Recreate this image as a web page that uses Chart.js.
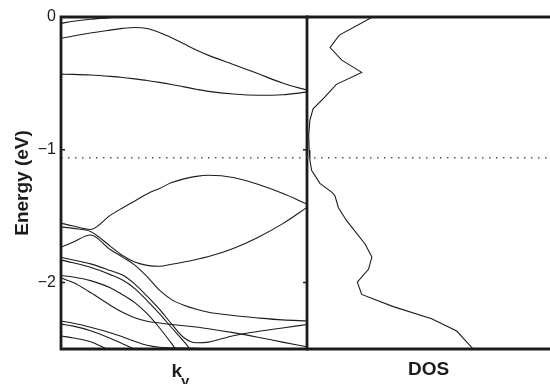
<!doctype html>
<html lang="en">
<head>
  <meta charset="utf-8">
  <title>Band structure and DOS</title>
  <script src="https://cdn.jsdelivr.net/npm/chart.js"></script>
  <style>
    body { margin: 0; background: #fff; }
    #wrap { position: relative; width: 550px; height: 384px; overflow: hidden; }
    canvas { position: absolute; top: 0; }
    #canvas_bands { left: 0; }
    #canvas_dos { left: 300px; }
  </style>
</head>
<body>
  <div id="wrap">
    <canvas id="canvas_bands" width="310" height="384"></canvas>
    <canvas id="canvas_dos" width="250" height="384"></canvas>
  </div>

  <script type="text/javascript">

    // k along the left panel, 0 = left edge, 1 = right edge
    const k_points = [0, 0.05, 0.12, 0.2, 0.25, 0.3, 0.35, 0.4, 0.45, 0.5, 0.55, 0.6, 0.7, 0.8, 0.9, 1.0];

    // band energies (eV) at each k point
    const band_01 = [-0.048, -0.032, -0.017, -0.006, 0.0, 0.005, 0.01, 0.015, 0.02, 0.02, 0.02, 0.02, 0.02, 0.02, 0.02, 0.02];
    const band_02 = [-0.161, -0.143, -0.121, -0.099, -0.086, -0.079, -0.087, -0.116, -0.156, -0.202, -0.248, -0.289, -0.357, -0.426, -0.497, -0.551];
    const band_03 = [-0.430, -0.432, -0.437, -0.447, -0.455, -0.466, -0.478, -0.492, -0.508, -0.526, -0.544, -0.560, -0.580, -0.589, -0.585, -0.566];
    const band_04 = [-1.552, -1.574, -1.600, -1.494, -1.438, -1.385, -1.332, -1.291, -1.247, -1.219, -1.200, -1.192, -1.208, -1.260, -1.328, -1.409];
    const band_05 = [-1.580, -1.592, -1.615, -1.725, -1.796, -1.845, -1.870, -1.877, -1.862, -1.845, -1.826, -1.804, -1.743, -1.660, -1.558, -1.434];
    const band_06 = [-1.734, -1.694, -1.642, -1.751, -1.808, -1.868, -1.955, -2.057, -2.128, -2.170, -2.200, -2.223, -2.248, -2.266, -2.281, -2.289];
    const band_07 = [-1.809, -1.830, -1.859, -1.909, -1.943, -2.011, -2.102, -2.200, -2.313, -2.415, -2.453, -2.448, -2.400, -2.368, -2.342, -2.315];
    const band_08 = [-1.829, -1.851, -1.885, -1.940, -1.981, -2.045, -2.136, -2.234, -2.340, -2.445, -2.558, -2.650, -2.800, -2.900, -2.950, -3.000];
    const band_09 = [-1.947, -1.958, -1.985, -2.038, -2.091, -2.151, -2.234, -2.340, -2.460, -2.589, -2.700, -2.800, -2.900, -2.950, -3.000, -3.000];
    const band_10 = [-1.965, -2.000, -2.075, -2.170, -2.223, -2.264, -2.291, -2.304, -2.315, -2.325, -2.334, -2.347, -2.377, -2.411, -2.448, -2.483];
    const band_11 = [-2.289, -2.306, -2.336, -2.377, -2.408, -2.442, -2.472, -2.487, -2.491, -2.493, -2.495, -2.500, -2.513, -2.521, -2.528, -2.530];
    const band_12 = [-2.313, -2.328, -2.362, -2.419, -2.460, -2.502, -2.543, -2.600, -2.650, -2.700, -2.750, -2.800, -2.850, -2.900, -2.950, -3.000];
    const band_13 = [-2.402, -2.417, -2.445, -2.513, -2.551, -2.600, -2.650, -2.700, -2.750, -2.800, -2.850, -2.900, -2.950, -3.000, -3.000, -3.000];

    const bands = [band_01, band_02, band_03, band_04, band_05, band_06, band_07, band_08, band_09, band_10, band_11, band_12, band_13];

    // density of states (arbitrary units, 0..1 across the right panel) vs energy
    const dos_energy = [0, -0.136, -0.230, -0.325, -0.417, -0.507, -0.602, -0.691, -0.777, -0.891, -1.004, -1.079, -1.155, -1.253, -1.321, -1.346, -1.434, -1.534, -1.709, -1.808, -1.900, -1.996, -2.089, -2.181, -2.272, -2.365, -2.50];
    const dos_values = [0.270, 0.133, 0.095, 0.143, 0.225, 0.121, 0.074, 0.025, 0.012, 0.007, 0.009, 0.012, 0.019, 0.053, 0.103, 0.115, 0.129, 0.163, 0.239, 0.267, 0.253, 0.207, 0.225, 0.355, 0.513, 0.616, 0.684];

    const fermi_level = -1.06;

    const energy_ticks = [0, -1, -2];
    const energy_tick_labels = ['0', '\u22121', '\u22122'];

    const ink = '#1c1c1c';
    const font_family = "'Liberation Sans', Arial, Helvetica, sans-serif";

    Chart.defaults.font.family = font_family;
    Chart.defaults.color = ink;

    // thick frame round each panel, plus small inward ticks
    const frame_plugin = {
      id: 'frame',
      afterDatasetsDraw(chart, args, opts) {
        const { ctx, chartArea: a } = chart;
        ctx.save();
        ctx.strokeStyle = ink;
        ctx.lineWidth = 2.8;
        ctx.beginPath();
        if (opts.full) {
          ctx.rect(a.left, a.top, a.right - a.left, a.bottom - a.top);
        } else {
          ctx.moveTo(a.left - 1, a.top); ctx.lineTo(a.right + 2, a.top);
          ctx.moveTo(a.left - 1, a.bottom); ctx.lineTo(a.right + 2, a.bottom);
        }
        ctx.stroke();
        if (opts.ticks) {
          ctx.lineWidth = 1.5;
          ctx.beginPath();
          energy_ticks.forEach(v => {
            const y = chart.scales.y.getPixelForValue(v);
            ctx.moveTo(a.left, y); ctx.lineTo(a.left + 4, y);
            ctx.moveTo(a.right, y); ctx.lineTo(a.right - 4, y);
          });
          ctx.stroke();
        }
        ctx.restore();
      }
    };

    // bottom captions: "k" with subscript "y", and "DOS"
    const caption_plugin = {
      id: 'caption',
      afterDraw(chart, args, opts) {
        const { ctx, chartArea: a } = chart;
        const mid = (a.left + a.right) / 2;
        ctx.save();
        ctx.fillStyle = ink;
        ctx.textBaseline = 'alphabetic';
        ctx.font = 'bold 19px ' + font_family;
        if (opts.sub) {
          ctx.textAlign = 'right';
          ctx.fillText(opts.text, mid - 2, a.bottom + 28);
          ctx.textAlign = 'left';
          ctx.font = 'bold 15px ' + font_family;
          ctx.fillText(opts.sub, mid - 3, a.bottom + 37);
        } else {
          ctx.textAlign = 'center';
          ctx.fillText(opts.text, mid, a.bottom + 26);
        }
        ctx.restore();
      }
    };

    const line_style = { borderColor: ink, borderWidth: 1.1, pointRadius: 0, fill: false, cubicInterpolationMode: 'monotone' };

    const dotted_style = { borderColor: '#555', borderWidth: 1.5, borderDash: [1.5, 5.5], pointRadius: 0, fill: false };

    document.addEventListener("DOMContentLoaded", () => {

      const band_sets = bands.map(b => Object.assign({ data: k_points.map((k, i) => ({ x: k, y: b[i] })) }, line_style));

      band_sets.push(Object.assign({ data: [{ x: 0, y: fermi_level }, { x: 1, y: fermi_level }] }, dotted_style));

      new Chart(document.getElementById('canvas_bands'), {
        type: 'line',
        data: { datasets: band_sets },
        options: {
          responsive: false, animation: false,
          layout: { padding: { top: 17, bottom: 35, left: 0, right: 3 } },
          plugins: {
            legend: { display: false }, tooltip: { enabled: false },
            frame: { full: true, ticks: true },
            caption: { text: 'k', sub: 'y' }
          },
          scales: {
            x: { type: 'linear', min: 0, max: 1, display: false },
            y: {
              min: -2.5, max: 0,
              afterFit: (s) => { s.width = 61; },
              afterBuildTicks: (s) => { s.ticks = energy_ticks.map(v => ({ value: v })); },
              ticks: { padding: 5, font: { size: 16 }, color: ink, callback: (v, i) => energy_tick_labels[i] },
              grid: { display: false, drawTicks: false },
              border: { display: false },
              title: { display: true, text: 'Energy (eV)', color: ink, font: { size: 19, weight: 'bold' }, padding: { top: 11, bottom: 0 } }
            }
          }
        },
        plugins: [frame_plugin, caption_plugin]
      });

      new Chart(document.getElementById('canvas_dos'), {
        type: 'scatter',
        data: {
          datasets: [
            Object.assign({ data: dos_values.map((d, i) => ({ x: d, y: dos_energy[i] })), showLine: true }, line_style, { cubicInterpolationMode: 'default', tension: 0 }),
            Object.assign({ data: [{ x: 0, y: fermi_level }, { x: 1, y: fermi_level }], showLine: true }, dotted_style)
          ]
        },
        options: {
          responsive: false, animation: false,
          layout: { padding: { top: 17, bottom: 35, left: 7, right: 0 } },
          plugins: {
            legend: { display: false }, tooltip: { enabled: false },
            frame: { full: false, ticks: false },
            caption: { text: 'DOS' }
          },
          scales: {
            x: { type: 'linear', min: 0, max: 1, display: false },
            y: { min: -2.5, max: 0, display: false }
          }
        },
        plugins: [frame_plugin, caption_plugin]
      });

    });

  </script>
</body>
</html>
